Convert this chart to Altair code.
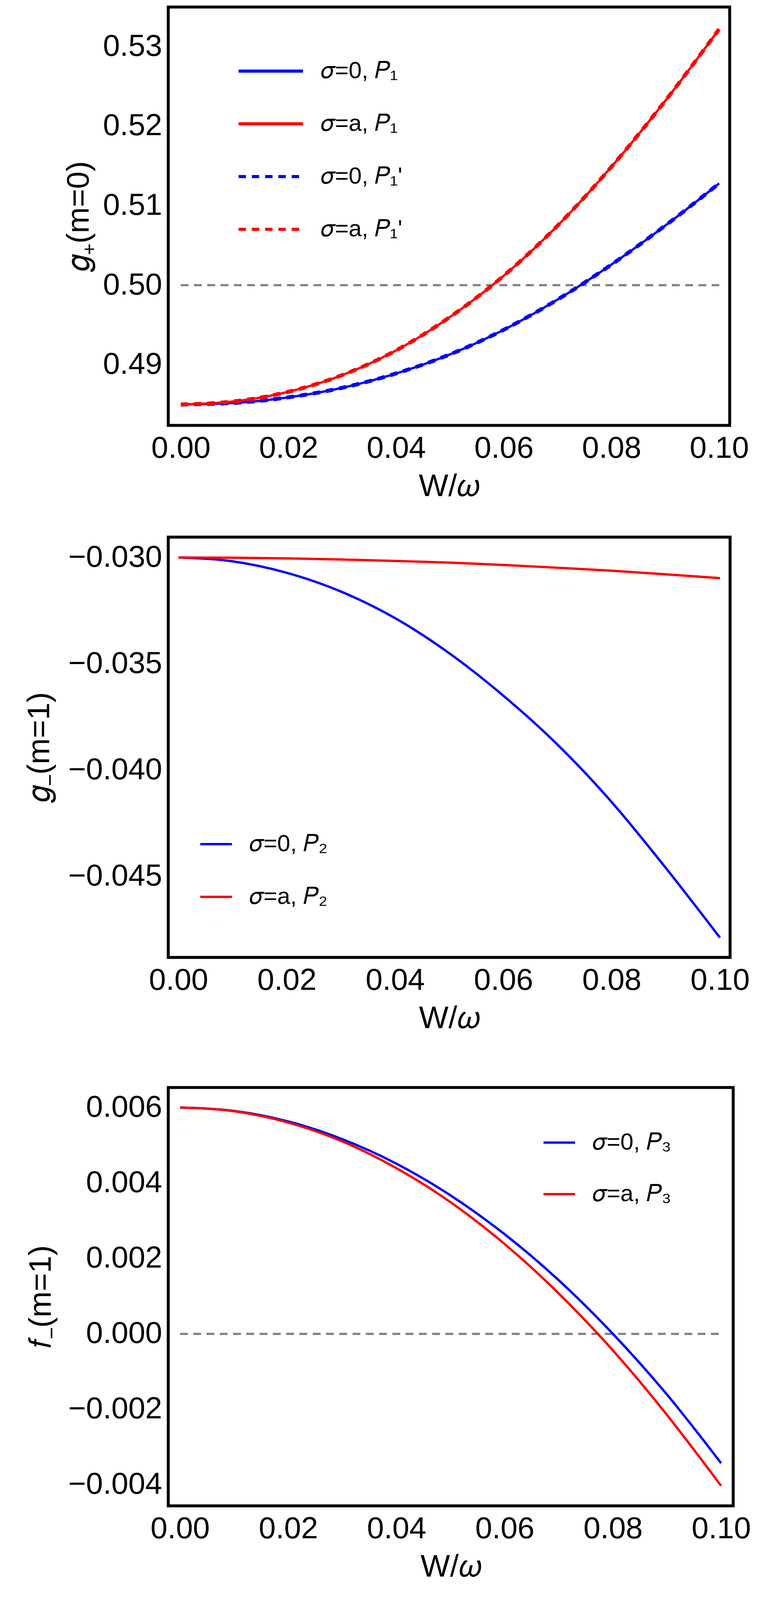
import altair as alt
import pandas as pd

# ---------------- data ----------------
x_vals = [0.00, 0.01, 0.02, 0.03, 0.04, 0.05, 0.06, 0.07, 0.08, 0.09, 0.10]

# panel 1: g+(m=0)
p1_blue = [0.4850, 0.4852, 0.4859, 0.4871, 0.4889, 0.4913, 0.4944, 0.4982, 0.5026, 0.5075, 0.5128]
p1_red = [0.4850, 0.4854, 0.4866, 0.4887, 0.4918, 0.4960, 0.5012, 0.5075, 0.5149, 0.5232, 0.5322]
p1_blue_prime = [0.4850, 0.4852, 0.4859, 0.4871, 0.4889, 0.4913, 0.4944, 0.4982, 0.5026, 0.5075, 0.5128]
p1_red_prime = [0.4850, 0.4854, 0.4866, 0.4887, 0.4918, 0.4960, 0.5012, 0.5075, 0.5149, 0.5232, 0.5322]

# panel 2: g-(m=1)
p2_blue = [-0.03000, -0.03018, -0.03072, -0.03160, -0.03285, -0.03450, -0.03650, -0.03880, -0.04150, -0.04460, -0.04788]
p2_red = [-0.03000, -0.03001, -0.03004, -0.03009, -0.03016, -0.03024, -0.03035, -0.03048, -0.03062, -0.03079, -0.03097]

# panel 3: f-(m=1)
p3_blue = [0.00600, 0.00591, 0.00563, 0.00516, 0.00451, 0.00367, 0.00264, 0.00142, 0.00000, -0.00161, -0.00343]
p3_red = [0.00600, 0.00590, 0.00560, 0.00510, 0.00439, 0.00349, 0.00238, 0.00107, -0.00044, -0.00215, -0.00403]

labels1 = ["𝜎=0, 𝑃₁", "𝜎=a, 𝑃₁", "𝜎=0, 𝑃₁'", "𝜎=a, 𝑃₁'"]
labels2 = ["𝜎=0, 𝑃₂", "𝜎=a, 𝑃₂"]
labels3 = ["𝜎=0, 𝑃₃", "𝜎=a, 𝑃₃"]

x_ticks = [0.00, 0.02, 0.04, 0.06, 0.08, 0.10]
p1_yticks = [0.49, 0.50, 0.51, 0.52, 0.53]
p2_yticks = [-0.045, -0.040, -0.035, -0.030]
p3_yticks = [-0.004, -0.002, 0.000, 0.002, 0.004, 0.006]

p1_ref = 0.50
p3_ref = 0.0

BLUE = "#0000ff"
RED = "#ff0000"
GRAY = "#808080"
FONT = "Liberation Sans"

H1, H2, H3 = 1071, 1076, 1071


def frame(series_lists, labels):
    rows = []
    for lab, ys in zip(labels, series_lists):
        for xv, yv in zip(x_vals, ys):
            rows.append({"x": xv, "y": yv, "series": lab})
    return pd.DataFrame(rows)


def x_enc(domain):
    return alt.X(
        "x:Q",
        scale=alt.Scale(domain=domain, nice=False, zero=False),
        axis=alt.Axis(values=x_ticks, format=".2f", title="W/𝜔"),
    )


def legend(x, y, sym_len, clip=135, sw=6):
    return alt.Legend(
        orient="none", legendX=x, legendY=y, title=None,
        symbolType="stroke", symbolSize=sym_len * sym_len, symbolStrokeWidth=sw,
        clipHeight=clip, rowPadding=0, padding=0,
        labelFontSize=60, labelFont=FONT, labelOffset=42, labelLimit=0,
        labelColor="black",
    )


def ref_rule(yv):
    d = pd.DataFrame({"x": [x_vals[0]], "x2": [x_vals[-1]], "y": [yv]})
    return alt.Chart(d).mark_rule(color=GRAY, strokeWidth=5.5, strokeDash=[20, 14]).encode(
        x="x:Q", x2="x2:Q", y="y:Q"
    )


# ---------------- panel 1 ----------------
dom1x = [-0.00232, 0.101958]
dom1y = [0.48237, 0.53498]
y1 = alt.Y("y:Q", scale=alt.Scale(domain=dom1y, nice=False, zero=False),
           axis=alt.Axis(values=p1_yticks, format=".2f", title="𝑔₊(m=0)", titleX=-188))
col1 = alt.Color("series:N", scale=alt.Scale(domain=labels1, range=[BLUE, RED, BLUE, RED]),
                 legend=legend(176, 96.5, 165, sw=8))
dash1 = alt.StrokeDash("series:N", scale=alt.Scale(domain=labels1, range=[[1, 0], [1, 0], [19, 15], [19, 15]]),
                       legend=legend(176, 96.5, 165, sw=8))

solid1 = alt.Chart(frame([p1_blue, p1_red], labels1[:2])).mark_line(
    interpolate="monotone", strokeWidth=6, strokeCap="butt"
).encode(x=x_enc(dom1x), y=y1, color=col1, strokeDash=dash1)
dashed1 = alt.Chart(frame([p1_blue_prime, p1_red_prime], labels1[2:])).mark_line(
    interpolate="monotone", strokeWidth=10, strokeCap="butt"
).encode(x=x_enc(dom1x), y=y1, color=col1, strokeDash=dash1)

panel1 = alt.layer(ref_rule(p1_ref), solid1, dashed1).properties(width=1438, height=H1)

# ---------------- panel 2 ----------------
d2 = frame([p2_blue, p2_red], labels2)
dom2x = [-0.001875, 0.101875]
dom2y = [-0.04881, -0.02904]
panel2 = alt.Chart(d2).mark_line(interpolate="monotone", strokeWidth=6).encode(
    x=x_enc(dom2x),
    y=alt.Y("y:Q", scale=alt.Scale(domain=dom2y, nice=False, zero=False),
            axis=alt.Axis(values=p2_yticks, format=".3f", title="𝑔₋(m=1)", titleX=-289)),
    color=alt.Color("series:N", scale=alt.Scale(domain=labels2, range=[BLUE, RED]),
                    legend=legend(79, 718.5, 81)),
).properties(width=1439, height=H2)

# ---------------- panel 3 ----------------
d3 = frame([p3_blue, p3_red], labels3)
dom3x = [-0.002165, 0.102237]
dom3y = [-0.00456, 0.00653]
lines3 = alt.Chart(d3).mark_line(interpolate="monotone", strokeWidth=6).encode(
    x=x_enc(dom3x),
    y=alt.Y("y:Q", scale=alt.Scale(domain=dom3y, nice=False, zero=False),
            axis=alt.Axis(values=p3_yticks, format=".3f", title="𝑓₋(m=1)", titleX=-285)),
    color=alt.Color("series:N", scale=alt.Scale(domain=labels3, range=[BLUE, RED]),
                    legend=legend(958, 75, 81, clip=132)),
)
panel3 = alt.layer(ref_rule(p3_ref), lines3).properties(
    width=1447, height=H3,
    title=alt.TitleParams(" ", fontSize=36, offset=10),
)

chart = alt.vconcat(panel1, panel2, panel3, spacing=82).resolve_scale(
    color="independent", strokeDash="independent", x="independent", y="independent"
).resolve_legend(color="independent", strokeDash="independent").properties(
    padding={"left": 49, "top": 6, "right": 10, "bottom": 2}
).configure_view(
    stroke="black", strokeWidth=7.5
).configure_axis(
    domain=False, ticks=False, grid=False,
    labelFont=FONT, labelFontSize=78, labelColor="black", labelLimit=0,
    titleFont=FONT, titleFontSize=80, titleFontWeight="normal", titleColor="black",
).configure_axisX(
    labelPadding=20, titlePadding=19,
).configure_axisY(
    labelPadding=16, titlePadding=22,
)

chart.save("out.html", embed_options={"renderer": "svg", "actions": False})
